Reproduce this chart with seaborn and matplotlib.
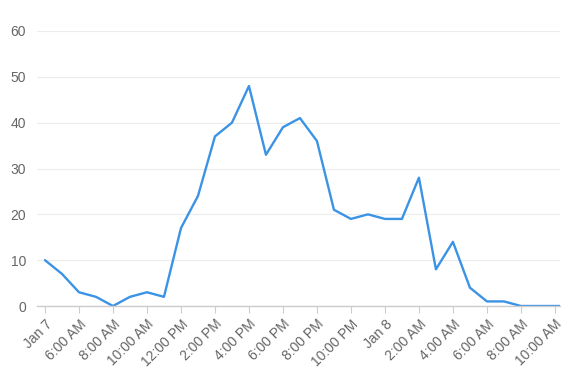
import matplotlib
matplotlib.use("Agg")
import matplotlib.pyplot as plt
import seaborn as sns
import pandas as pd

hours = list(range(32))
values = [10, 7, 3, 2, 0, 2, 3, 2, 17, 24, 37, 40, 48, 33, 39, 41, 36,
          21, 19, 20, 19, 19, 28, 8, 14, 4, 1, 1, 0, 0, 0, 0]
tick_positions = list(range(0, 31, 2))
tick_labels = ["Jan 7", "6:00 AM", "8:00 AM", "10:00 AM", "12:00 PM", "2:00 PM",
               "4:00 PM", "6:00 PM", "8:00 PM", "10:00 PM", "Jan 8", "2:00 AM",
               "4:00 AM", "6:00 AM", "8:00 AM", "10:00 AM"]
y_ticks = [0, 10, 20, 30, 40, 50, 60]

df = pd.DataFrame({"hour": hours, "value": values})

sns.set_theme(style="white")
plt.rcParams['font.family'] = ['Liberation Sans', 'DejaVu Sans']

fig = plt.figure(figsize=(5.68, 3.79), dpi=100)
ax = fig.add_axes([37/568, 1 - 306/379, (560-37)/568, (306-31)/379])

sns.lineplot(data=df, x="hour", y="value", ax=ax, color="#3b93e6", linewidth=1.7)

ax.set_xlim(-0.47, 30.3)
ax.set_ylim(0, 60)
ax.set_yticks(y_ticks)
ax.set_xticks(tick_positions)
ax.set_xticklabels(tick_labels, rotation=45, ha="right", rotation_mode="anchor")
ax.set_xlabel("")
ax.set_ylabel("")

ax.grid(axis="y", color="#ececec", linewidth=0.8)
ax.set_axisbelow(True)
for s in ["top", "right", "left"]:
    ax.spines[s].set_visible(False)
ax.spines["bottom"].set_color("#cccccc")
ax.spines["bottom"].set_linewidth(1.0)

ax.tick_params(axis="x", which="both", bottom=True, length=5, width=0.8,
               color="#cccccc", labelcolor="#666666", labelsize=10, pad=3)
ax.tick_params(axis="y", left=False, length=0, labelcolor="#666666", labelsize=10, pad=8)

fig.savefig("out.png", dpi=100)
